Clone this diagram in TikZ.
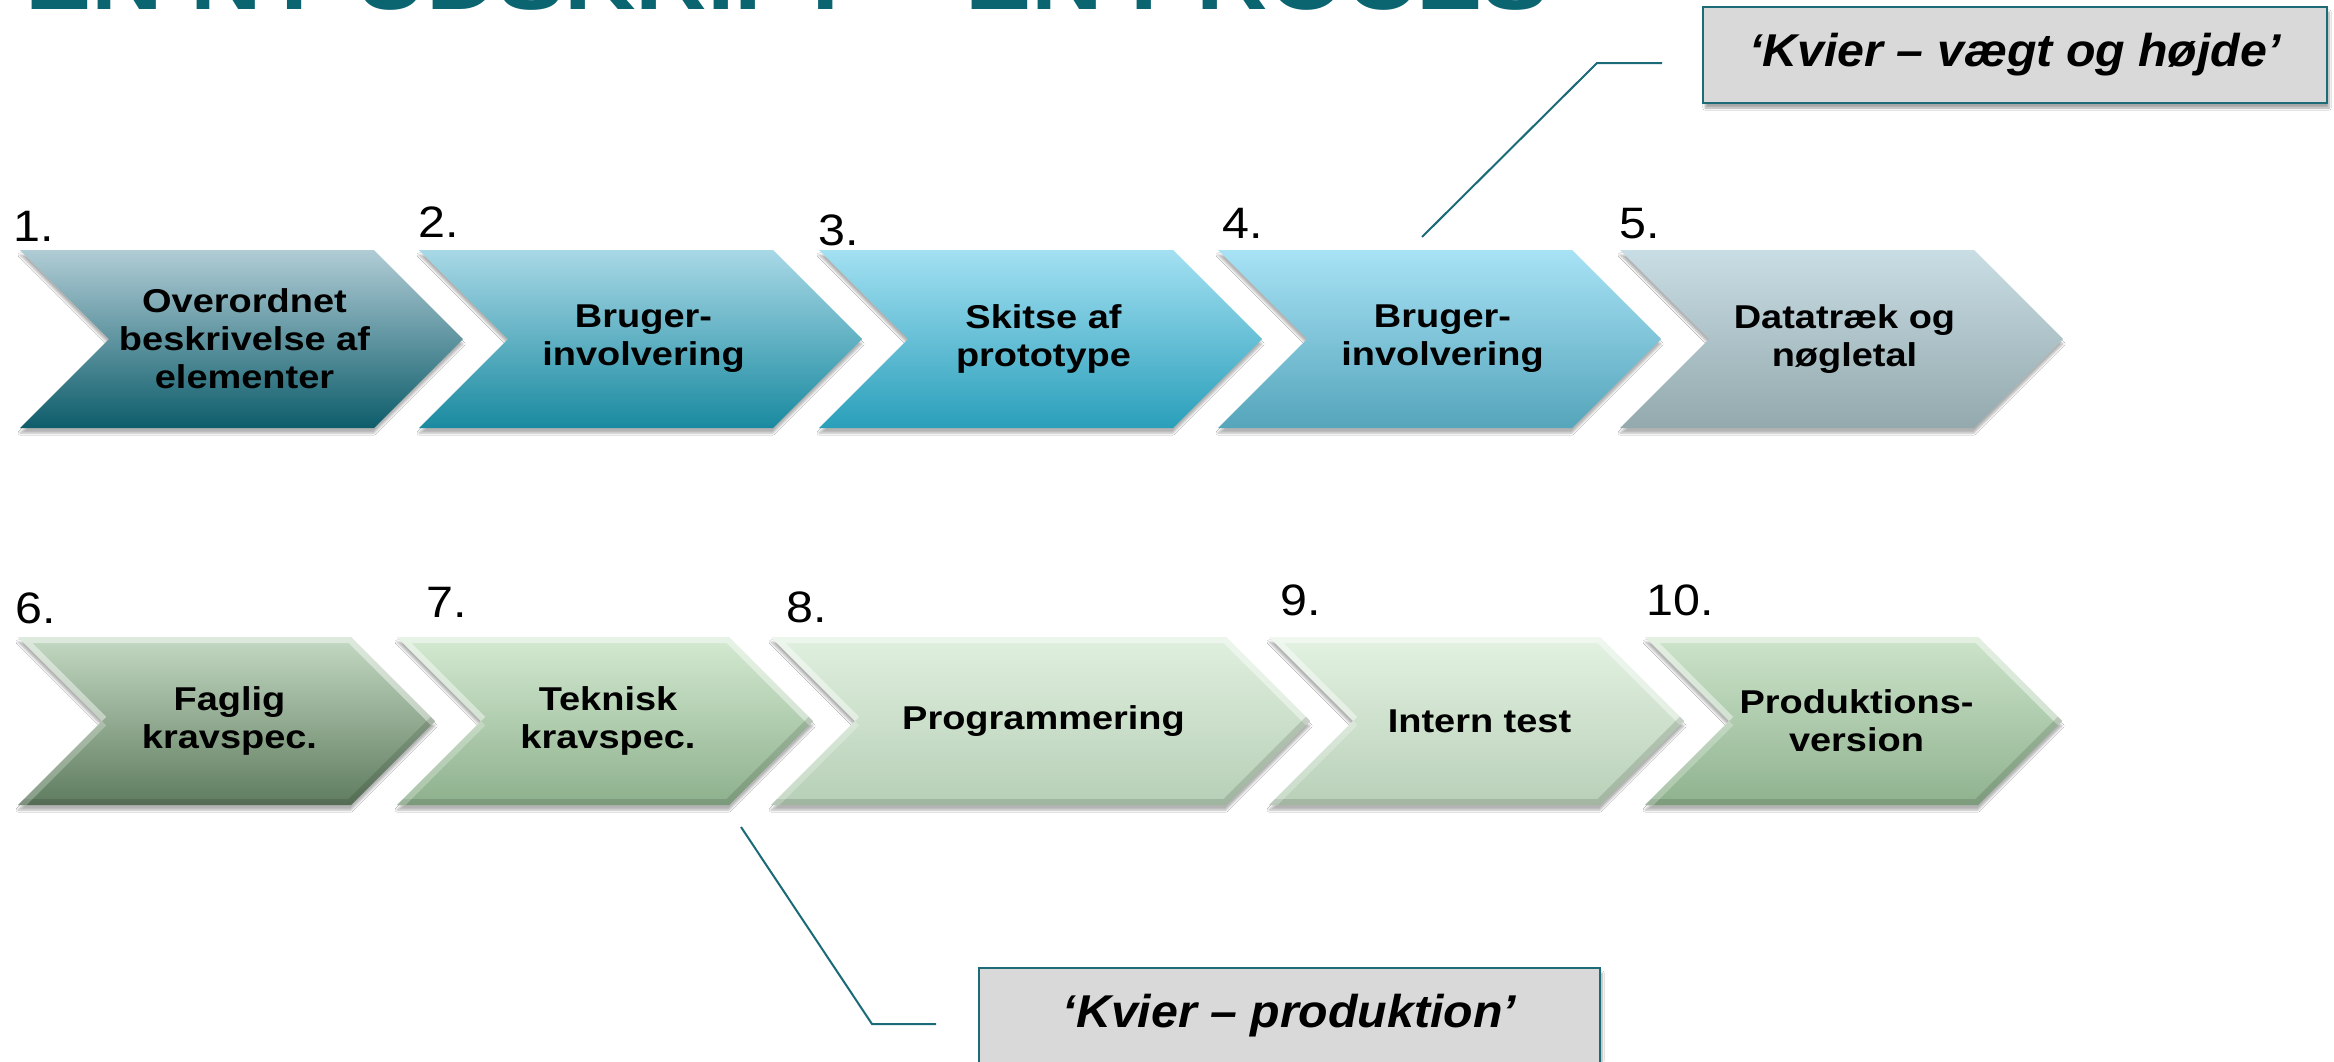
\documentclass[tikz,border=0pt]{standalone}
\usepackage{fontspec}
\setmainfont{Liberation Sans}
\newfontfamily\stretchfont[FakeStretch=1.15]{Liberation Sans}
\newfontfamily\numfont[FakeStretch=1.1]{Liberation Sans}
\newfontfamily\callfont[FakeStretch=1.05]{Liberation Sans}
\usetikzlibrary{shadows.blur}

\definecolor{titlecol}{HTML}{0B6570}
\definecolor{calloutfill}{HTML}{D9D9D9}
\definecolor{calloutborder}{HTML}{1E6B78}
\definecolor{leadercol}{HTML}{1A6A78}
% row 1 (blue) gradients
\definecolor{ca1}{HTML}{B0CCD5}\definecolor{cb1}{HTML}{0E5D6B}
\definecolor{ca2}{HTML}{A8D8E6}\definecolor{cb2}{HTML}{1A8AA0}
\definecolor{ca3}{HTML}{A3E0F2}\definecolor{cb3}{HTML}{2A9FBA}
\definecolor{ca4}{HTML}{A8E2F5}\definecolor{cb4}{HTML}{55A5BB}
\definecolor{ca5}{HTML}{C9DDE4}\definecolor{cb5}{HTML}{93A9AD}
% row 2 (green) gradients
\definecolor{ca6}{HTML}{C4D9C3}\definecolor{cb6}{HTML}{5F7C5F}
\definecolor{ca7}{HTML}{D4EAD2}\definecolor{cb7}{HTML}{8DB08C}
\definecolor{ca8}{HTML}{E0F0DF}\definecolor{cb8}{HTML}{B7CFB6}
\definecolor{ca9}{HTML}{E3F2E2}\definecolor{cb9}{HTML}{B9D0B8}
\definecolor{ca10}{HTML}{CDE4CB}\definecolor{cb10}{HTML}{8FB28E}

\tikzset{
  chevtext/.style={font=\stretchfont\bfseries\fontsize{33}{38}\selectfont, align=center, text=black, inner sep=0pt},
  numlabel/.style={font=\numfont\fontsize{44}{46}\selectfont, anchor=base west, inner sep=0pt, text=black},
  callout/.style={draw=calloutborder, line width=2.5pt, fill=calloutfill, minimum height=96pt,
    font=\callfont\bfseries\itshape\fontsize{46}{50}\selectfont, inner sep=0pt,
    blur shadow={shadow xshift=2pt, shadow yshift=-5pt, shadow blur steps=6, shadow opacity=35}},
  leader/.style={draw=leadercol, line width=2pt},
  chevshadow/.style={blur shadow={shadow xshift=0pt, shadow yshift=-5pt, shadow blur steps=6, shadow opacity=30}},
}

% #1 name, #2 left, #3 top, #4 width, #5 height
\newcommand\chevpts[5]{%
  \coordinate (#1-a) at (#2,#3);
  \coordinate (#1-b) at ({#2+#4-#5/2},#3);
  \coordinate (#1-c) at ({#2+#4},{#3+#5/2});
  \coordinate (#1-d) at ({#2+#4-#5/2},{#3+#5});
  \coordinate (#1-e) at (#2,{#3+#5});
  \coordinate (#1-f) at ({#2+#5/2},{#3+#5/2});
  \coordinate (#1-m) at ({#2+#4/2+3},{#3+#5/2});
}
% #1 name, #2 L, #3 T, #4 W, #5 H, #6 text
\newcommand\chevplain[6]{%
  \chevpts{#1}{#2}{#3}{#4}{#5}
  \path[chevshadow, top color=ca#1, bottom color=cb#1]
    (#1-a) -- (#1-b) -- (#1-c) -- (#1-d) -- (#1-e) -- (#1-f) -- cycle;
  \node[chevtext] (t#1) at (#1-m) {#6};
}
\newcommand\chevbevel[6]{%
  \chevpts{#1}{#2}{#3}{#4}{#5}
  \path[chevshadow, top color=ca#1, bottom color=cb#1]
    (#1-a) -- (#1-b) -- (#1-c) -- (#1-d) -- (#1-e) -- (#1-f) -- cycle;
  \begin{scope}
    \clip (#1-a) -- (#1-b) -- (#1-c) -- (#1-d) -- (#1-e) -- (#1-f) -- cycle;
    \draw[white, opacity=0.45, line width=12pt, line join=miter] (#1-f) -- (#1-a) -- (#1-b) -- (#1-c);
    \draw[black, opacity=0.12, line width=12pt, line join=miter] (#1-c) -- (#1-d) -- (#1-e);
    \draw[white, opacity=0.25, line width=12pt] (#1-e) -- (#1-f);
  \end{scope}
  \node[chevtext] (t#1) at (#1-m) {#6};
}

\begin{document}
\begin{tikzpicture}[x=1pt, y=-1pt]
  \clip (0,0) rectangle (2334,1061);
  \fill[white] (0,0) rectangle (2334,1061);

  % title (cut off at top)
  \node[anchor=base west, inner sep=0pt, text=titlecol,
        font=\numfont\bfseries\fontsize{90}{90}\selectfont] (title) at (25,9)
        {EN NY UDSKRIFT – EN PROCES};

  % row 1
  \chevplain{1}{20}{250}{443}{178}{Overordnet\\beskrivelse af\\elementer}
  \chevplain{2}{419}{250}{443}{178}{Bruger-\\involvering}
  \chevplain{3}{819}{250}{443}{178}{Skitse af\\prototype}
  \chevplain{4}{1218}{250}{443}{178}{Bruger-\\involvering}
  \chevplain{5}{1620}{250}{443}{178}{Datatræk og\\nøgletal}

  % row 2
  \chevbevel{6}{18}{637}{417}{168}{Faglig\\kravspec.}
  \chevbevel{7}{397}{637}{416}{168}{Teknisk\\kravspec.}
  \chevbevel{8}{771}{637}{539}{168}{Programmering}
  \chevbevel{9}{1269}{637}{415}{168}{Intern test}
  \chevbevel{10}{1645}{637}{417}{168}{Produktions-\\version}

  % step numbers
  \node[numlabel] (n1) at (13,241) {1.};
  \node[numlabel] (n2) at (418,237) {2.};
  \node[numlabel] (n3) at (818,245) {3.};
  \node[numlabel] (n4) at (1222,238) {4.};
  \node[numlabel] (n5) at (1619,238) {5.};
  \node[numlabel] (n6) at (15,623) {6.};
  \node[numlabel] (n7) at (426,617) {7.};
  \node[numlabel] (n8) at (786,622) {8.};
  \node[numlabel] (n9) at (1280,615) {9.};
  \node[numlabel] (n10) at (1646,615) {10.};

  % callouts
  \node[callout, minimum width=624pt] (box1) at (2015,55) {‘Kvier – vægt og højde’};
  \node[callout, minimum width=621pt] (box2) at (1289.5,1016) {‘Kvier – produktion’};

  \coordinate (p1) at (1422,237);
  \coordinate (k1) at (1597,63);
  \coordinate (e1) at (1662,63);
  \draw[leader] (p1) -- (k1) -- (e1);

  \coordinate (p2) at (741,827);
  \coordinate (k2) at (872,1024);
  \coordinate (e2) at (936,1024);
  \draw[leader] (p2) -- (k2) -- (e2);
\end{tikzpicture}
\end{document}
